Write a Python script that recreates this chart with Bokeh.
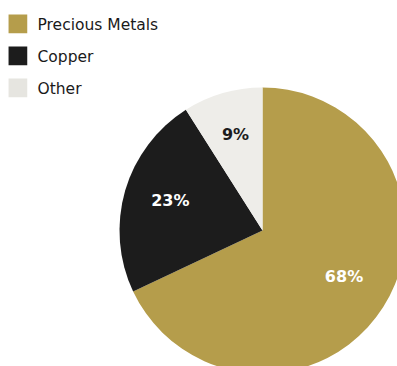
import math
from bokeh.plotting import figure
from bokeh.models import Range1d, ColumnDataSource
from bokeh.core.properties import value
from bokeh.embed import file_html
from bokeh.resources import INLINE

categories = ["Precious Metals", "Copper", "Other"]
shares = [68, 23, 9]
labels = ["68%", "23%", "9%"]
colors = ["#B59D4B", "#1C1C1C", "#EEEDE9"]
legend_colors = ["#B59D4B", "#1C1C1C", "#E6E5E0"]
label_colors = ["#FFFFFF", "#FFFFFF", "#1C1C1C"]
label_nudge_x = [-3, 4, 1]
label_nudge_y = [8, 2, 0]

W, H = 397, 366
p = figure(width=W, height=H, output_backend="svg", toolbar_location=None,
           x_range=Range1d(0, W), y_range=Range1d(0, H), min_border=0)
p.axis.visible = False
p.grid.visible = False
p.outline_line_color = None
p.background_fill_color = "white"
p.border_fill_color = "white"

cx, cy, R = 262, H - 230, 143
total = sum(shares)
starts, ends, lx, ly = [], [], [], []
cum = 0
for i, s in enumerate(shares):
    a0 = math.pi / 2 - 2 * math.pi * cum / total
    a1 = math.pi / 2 - 2 * math.pi * (cum + s) / total
    starts.append(a0)
    ends.append(a1)
    mid = (a0 + a1) / 2
    lx.append(cx + 0.7 * R * math.cos(mid) + label_nudge_x[i])
    ly.append(cy + 0.7 * R * math.sin(mid) + label_nudge_y[i])
    cum += s

src = ColumnDataSource(dict(start=starts, end=ends, color=colors,
                            lx=lx, ly=ly, label=labels, lcolor=label_colors))
p.wedge(x=cx, y=cy, radius=R, start_angle="start", end_angle="end",
        direction="clock", fill_color="color", line_color=None, source=src)
p.text(x="lx", y="ly", text="label", text_color="lcolor", source=src,
       text_font=value("DejaVu Sans"), text_font_style="bold",
       text_font_size="16px", text_align="center", text_baseline="middle")

# legend
leg_y = [H - 23.3, H - 55.3, H - 87.3]
p.rect(x=[17.4] * 3, y=leg_y, width=18.7, height=18.7, fill_color=legend_colors,
       line_color=None)
p.text(x=[37] * 3, y=[v - 1 for v in leg_y], text=categories, text_color="#1A1A1A",
       text_font=value("DejaVu Sans"), text_font_style="normal",
       text_font_size="15.5px", text_align="left", text_baseline="middle")

open("out.html", "w").write(file_html(p, INLINE))
